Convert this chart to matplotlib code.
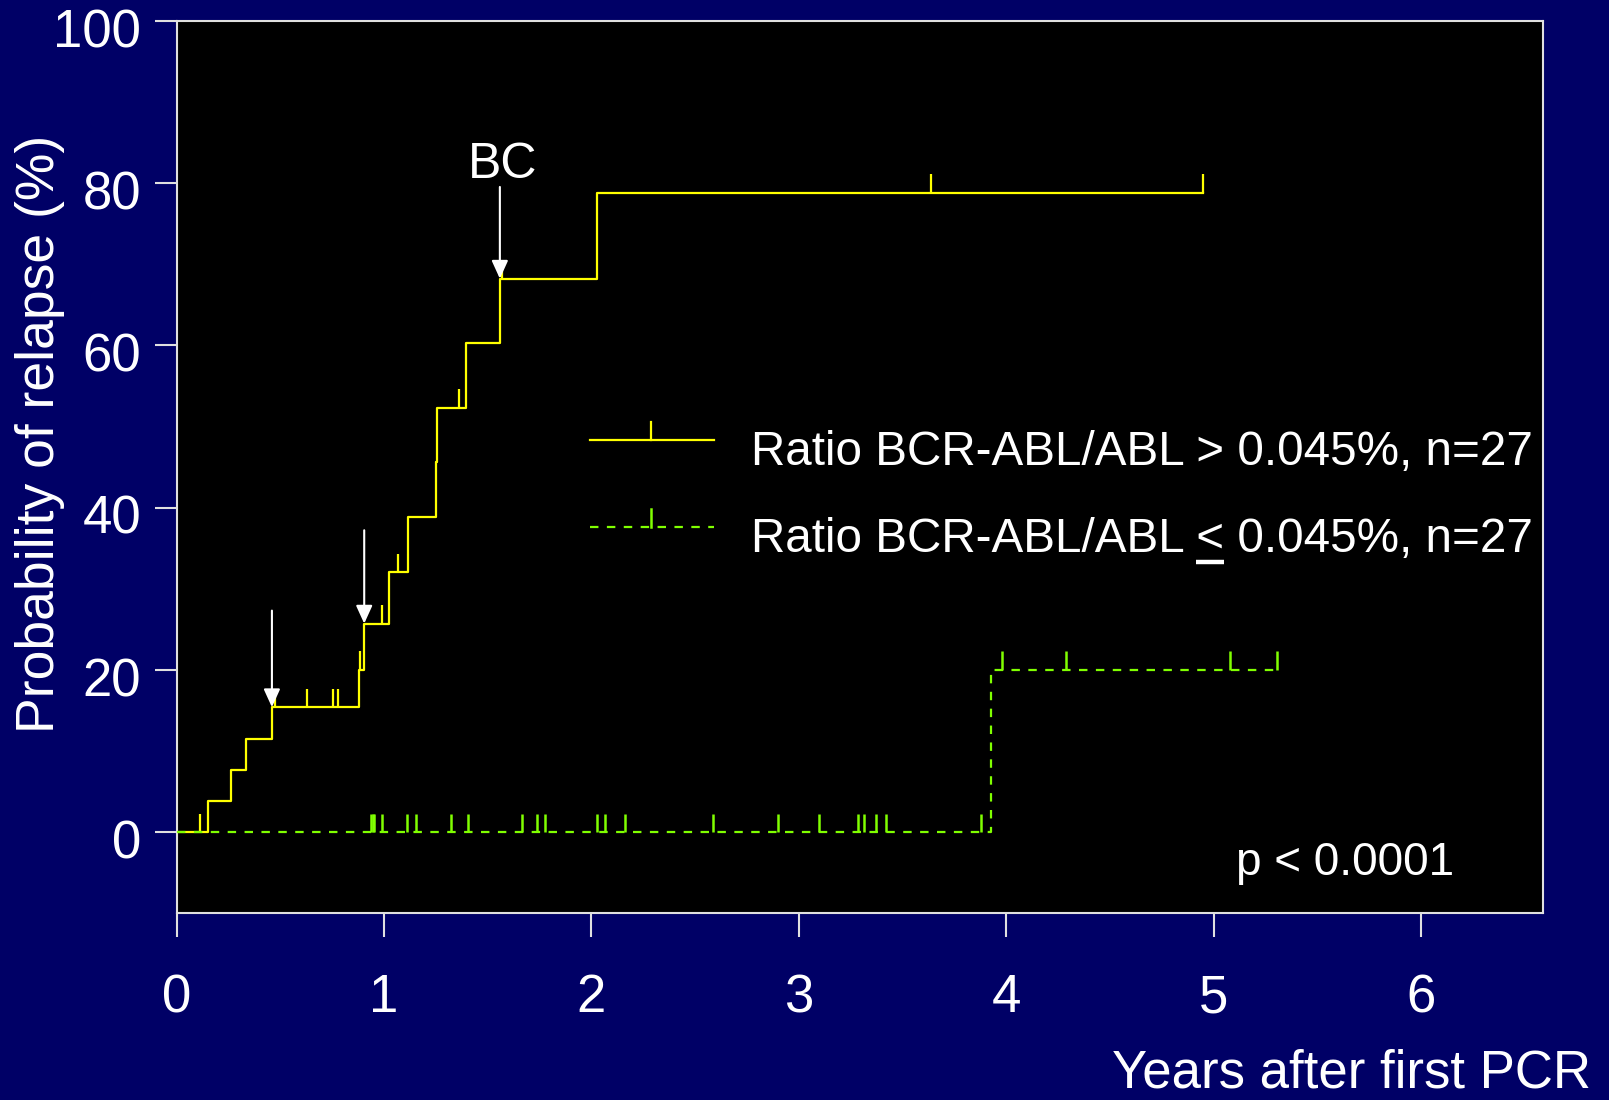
import numpy as np
import matplotlib
matplotlib.use("Agg")
import matplotlib.pyplot as plt
from matplotlib.transforms import ScaledTranslation

plt.rcParams['font.family'] = ['Liberation Sans', 'DejaVu Sans']

# Kaplan-Meier style relapse curves (years, cumulative % relapsed)
high_event_t = [0.150, 0.265, 0.336, 0.460, 0.878, 0.902, 1.026, 1.114, 1.250, 1.256, 1.395, 1.559, 2.025]
high_event_pct = [3.85, 7.7, 11.5, 15.4, 20.0, 25.7, 32.0, 38.8, 45.6, 52.3, 60.3, 68.2, 78.8]
high_censor_t = [0.113, 0.475, 0.627, 0.753, 0.780, 0.886, 0.992, 1.070, 1.360, 1.567, 3.640, 4.950]
high_end = 4.95

low_event_t = [3.927]
low_event_pct = [20.0]
low_censor_t = [0.937, 0.945, 0.952, 0.992, 1.112, 1.153, 1.323, 1.403, 1.667, 1.736, 1.779,
                2.028, 2.065, 2.162, 2.587, 2.900, 3.098, 3.286, 3.313, 3.371, 3.419, 3.880,
                3.980, 4.287, 5.077, 5.305]
low_end = 5.305

# arrows: (time, start %, relapse level %)
arrows = [(0.460, 27.3, 15.4), (0.905, 37.2, 25.7), (1.559, 79.5, 68.2)]

x_ticks = [0, 1, 2, 3, 4, 5, 6]
y_ticks = [0, 20, 40, 60, 80, 100]

navy = '#000066'
yellow = '#FFFF00'
green = '#80FF00'


def step_level(t, ev_t, ev_pct):
    idx = np.searchsorted(ev_t, t, side='right')
    return np.concatenate([[0.0], ev_pct])[idx]


fig = plt.figure(figsize=(16.09, 11.0), dpi=100, facecolor=navy)
ax = fig.add_axes([0.1097, 0.1697, 0.8495, 0.8116])
ax.set_facecolor('black')
ax.set_xlim(0, 6.59)
ax.set_ylim(-10, 100)

# curves
hx = np.concatenate([[0.0], high_event_t, [high_end]])
hy = np.concatenate([[0.0], high_event_pct, [high_event_pct[-1]]])
ax.plot(hx, hy, drawstyle='steps-post', color=yellow, lw=1.6, zorder=3)

lx = np.concatenate([[0.0], low_event_t, [low_end]])
ly = np.concatenate([[0.0], low_event_pct, [low_event_pct[-1]]])
ax.plot(lx, ly, drawstyle='steps-post', color=green, lw=1.6,
        dashes=(3.8, 3.8), zorder=4)

# censor ticks
tick_h = 2.3
hc = np.array(high_censor_t)
hl = step_level(hc, high_event_t, high_event_pct)
ax.vlines(hc, hl, hl + tick_h, color=yellow, lw=1.6, zorder=3)
lc = np.array(low_censor_t)
ll = step_level(lc, low_event_t, low_event_pct)
ax.vlines(lc, ll, ll + tick_h, color=green, lw=1.8, zorder=4)

# arrows pointing at relapses
for t, y0, y1 in arrows:
    ax.annotate('', xy=(t, y1), xytext=(t, y0),
                arrowprops=dict(arrowstyle='-|>,head_length=0.55,head_width=0.25',
                                color='white', lw=1.5, mutation_scale=20,
                                shrinkA=0, shrinkB=0), zorder=5)
ax.text(1.573, 80.65, 'BC', color='white', fontsize=36, ha='center', va='baseline')

# legend
leg_size = 34.3
ax.plot([0.3022, 0.3932], [0.530, 0.530], transform=ax.transAxes, color=yellow, lw=1.6)
ax.plot([0.3474, 0.3474], [0.530, 0.550], transform=ax.transAxes, color=yellow, lw=1.6)
ax.plot([0.3022, 0.3932], [0.4323, 0.4323], transform=ax.transAxes, color=green, lw=1.6,
        dashes=(3.8, 3.8))
ax.plot([0.3474, 0.3474], [0.4323, 0.4525], transform=ax.transAxes, color=green, lw=1.8)
ax.text(0.4203, 0.502, 'Ratio BCR-ABL/ABL > 0.045%, n=27', transform=ax.transAxes,
        color='white', fontsize=leg_size, va='baseline')
ax.text(0.4203, 0.405, 'Ratio BCR-ABL/ABL < 0.045%, n=27', transform=ax.transAxes,
        color='white', fontsize=leg_size, va='baseline')

# underline the "<" so it reads as "less than or equal"
renderer = fig.canvas.get_renderer()
probe = ax.text(0.4203, 0.405, 'Ratio BCR-ABL/ABL <', transform=ax.transAxes,
                fontsize=leg_size, va='baseline')
probe_lt = ax.text(0.4203, 0.405, '<', transform=ax.transAxes,
                   fontsize=leg_size, va='baseline')
x_end = probe.get_window_extent(renderer).x1
lt_w = probe_lt.get_window_extent(renderer).width
probe.remove()
probe_lt.remove()
inv = ax.transAxes.inverted()
base_px = ax.transAxes.transform((0, 0.405))[1]
(u0, uy), (u1, _) = inv.transform([(x_end - lt_w, base_px - 10), (x_end, base_px - 10)])
ax.plot([u0, u1], [uy, uy], transform=ax.transAxes, color='white', lw=3.2,
        solid_capstyle='butt')

ax.text(5.108, -5.3, 'p < 0.0001', color='white', fontsize=33, va='baseline')

# axes styling
for s in ax.spines.values():
    s.set_color('#E0E0E0')
    s.set_linewidth(1.5)
ax.set_xticks(x_ticks)
ax.set_yticks(y_ticks)
ax.tick_params(axis='x', direction='out', length=17, width=1.5, color='#E0E0E0',
               labelcolor='white', labelsize=38, pad=26)
ax.tick_params(axis='y', direction='out', length=15.6, width=1.5, color='#E0E0E0',
               labelcolor='white', labelsize=38, pad=10)
shift = ScaledTranslation(0, -5 / 72, fig.dpi_scale_trans)
for lab in ax.get_yticklabels():
    lab.set_transform(lab.get_transform() + shift)

fig.text(0.0249, 0.606, 'Probability of relapse (%)', rotation=90, color='white',
         fontsize=38.5, ha='center', va='center')
fig.text(0.9886, 0.0118, 'Years after first PCR', color='white', fontsize=38,
         ha='right', va='baseline')

fig.savefig('out.png', dpi=100, facecolor=navy)
